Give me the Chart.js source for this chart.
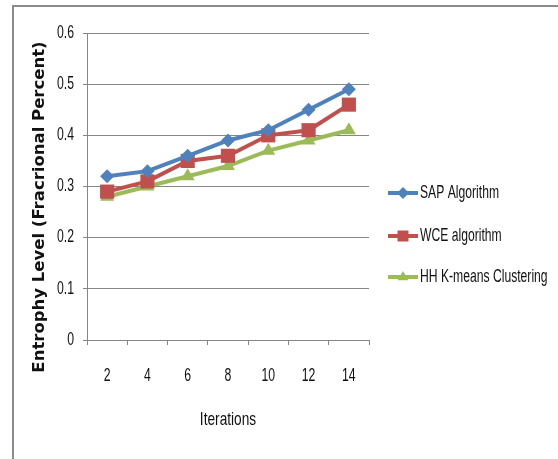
<!DOCTYPE html>
<html>
<head>
<meta charset="utf-8">
<script src="https://cdn.jsdelivr.net/npm/chart.js@4"></script>
<style>
  html, body { margin: 0; padding: 0; background: #fff; }
  #wrap { width: 558px; height: 459px; }
</style>
</head>
<body>
<div id="wrap"><canvas id="chart1" width="558" height="459"></canvas></div>
<script>
var iterations = ['2', '4', '6', '8', '10', '12', '14'];
var sapValues = [0.32, 0.33, 0.36, 0.39, 0.41, 0.45, 0.49];
var wceValues = [0.29, 0.31, 0.35, 0.36, 0.40, 0.41, 0.46];
var hhValues = [0.28, 0.30, 0.32, 0.34, 0.37, 0.39, 0.41];
var yTicks = [0, 0.1, 0.2, 0.3, 0.4, 0.5, 0.6];

var cBlue = '#4F81BD';
var cRed = '#C0504D';
var cGreen = '#9BBB59';
var txt = '#111';
var family = '"Liberation Sans", Arial, sans-serif';

// squeezed text, to look like the narrow font of the original
function narrowText(ctx, s, x, y, size, sx, align) {
    ctx.save();
    ctx.font = size + 'px ' + family;
    ctx.textBaseline = 'middle';
    ctx.textAlign = align;
    ctx.translate(x, y);
    ctx.scale(sx, 1);
    ctx.fillText(s, 0, 0);
    ctx.restore();
}

var extras = {
    id: 'extras',
    beforeDraw: function (chart) {
        var ctx = chart.ctx;
        ctx.save();
        ctx.strokeStyle = '#8c8c8c';
        ctx.lineWidth = 2;
        ctx.beginPath();
        ctx.moveTo(13, 459);
        ctx.lineTo(13, 6);
        ctx.lineTo(558, 6);
        ctx.stroke();
        ctx.restore();
    },
    afterDraw: function (chart) {
        var ctx = chart.ctx;
        var xs = chart.scales.x, ys = chart.scales.y;
        ctx.save();
        ctx.fillStyle = txt;

        // tick labels
        xs.ticks.forEach(function (t, i) {
            narrowText(ctx, xs.getLabelForValue(t.value), xs.getPixelForTick(i), 376, 17.5, 0.7, 'center');
        });
        ys.ticks.forEach(function (t) {
            var s = String(Math.round(t.value * 10) / 10);
            narrowText(ctx, s, 74, ys.getPixelForValue(t.value), 17.5, 0.7, 'right');
        });

        // axis titles
        ctx.save();
        ctx.font = 'bold 16.5px "DejaVu Sans", sans-serif';
        ctx.textAlign = 'center';
        ctx.textBaseline = 'middle';
        ctx.translate(40, 207);
        ctx.rotate(-Math.PI / 2);
        ctx.fillText('Entrophy Level (Fracrional Percent)', 0, 0);
        ctx.restore();
        narrowText(ctx, 'Iterations', 228, 420, 19, 0.72, 'center');

        // legend
        var ly = [193, 236, 277];
        chart.data.datasets.forEach(function (ds, i) {
            var y = ly[i];
            ctx.strokeStyle = ds.borderColor;
            ctx.lineWidth = 4;
            ctx.beginPath();
            ctx.moveTo(388, y);
            ctx.lineTo(418, y);
            ctx.stroke();
            ctx.fillStyle = ds.borderColor;
            ctx.beginPath();
            var r = 6;
            if (ds.pointStyle === 'rectRot') {
                ctx.moveTo(403, y - r); ctx.lineTo(403 + r, y); ctx.lineTo(403, y + r); ctx.lineTo(403 - r, y);
            } else if (ds.pointStyle === 'rect') {
                ctx.rect(403 - 5.5, y - 5.5, 11, 11);
            } else {
                ctx.moveTo(403, y - r); ctx.lineTo(403 + r * 0.9, y + r * 0.55); ctx.lineTo(403 - r * 0.9, y + r * 0.55);
            }
            ctx.closePath();
            ctx.fill();
            ctx.fillStyle = txt;
            narrowText(ctx, ds.label, 420, y, 18, 0.675, 'left');
        });
        ctx.restore();
    }
};

chart1Ctx = document.querySelector('canvas#chart1').getContext('2d');

chart1 = new Chart(chart1Ctx, {
    type: 'line',
    data: {
        labels: iterations,
        datasets: [{
            label: 'SAP Algorithm',
            data: sapValues,
            borderColor: cBlue,
            backgroundColor: cBlue,
            borderWidth: 4,
            pointStyle: 'rectRot',
            pointRadius: 7,
            pointBorderWidth: 0
        },
        {
            label: 'WCE algorithm',
            data: wceValues,
            borderColor: cRed,
            backgroundColor: cRed,
            borderWidth: 4,
            pointStyle: 'rect',
            pointRadius: 10,
            pointBorderWidth: 0
        },
        {
            label: 'HH K-means Clustering',
            data: hhValues,
            borderColor: cGreen,
            backgroundColor: cGreen,
            borderWidth: 4,
            pointStyle: 'triangle',
            pointRadius: 8,
            pointBorderWidth: 0
        }]
    },
    options: {
        responsive: false,
        animation: false,
        events: [],
        layout: { padding: { left: 0, top: 33, right: 189, bottom: 0 } },
        plugins: {
            legend: { display: false },
            tooltip: { enabled: false }
        },
        scales: {
            x: {
                offset: true,
                grid: {
                    offset: true,
                    drawOnChartArea: false,
                    drawTicks: true,
                    tickLength: 5,
                    color: '#868686'
                },
                border: { color: '#868686' },
                ticks: { display: false },
                afterFit: function (scale) { scale.height = 119; }
            },
            y: {
                min: 0,
                max: 0.6,
                afterBuildTicks: function (scale) {
                    scale.ticks = yTicks.map(function (v) { return { value: v }; });
                },
                grid: {
                    color: '#868686',
                    drawTicks: true,
                    tickLength: 4
                },
                border: { color: '#868686' },
                ticks: { display: false },
                afterFit: function (scale) { scale.width = 87; }
            }
        }
    },
    plugins: [extras]
});
</script>
</body>
</html>
